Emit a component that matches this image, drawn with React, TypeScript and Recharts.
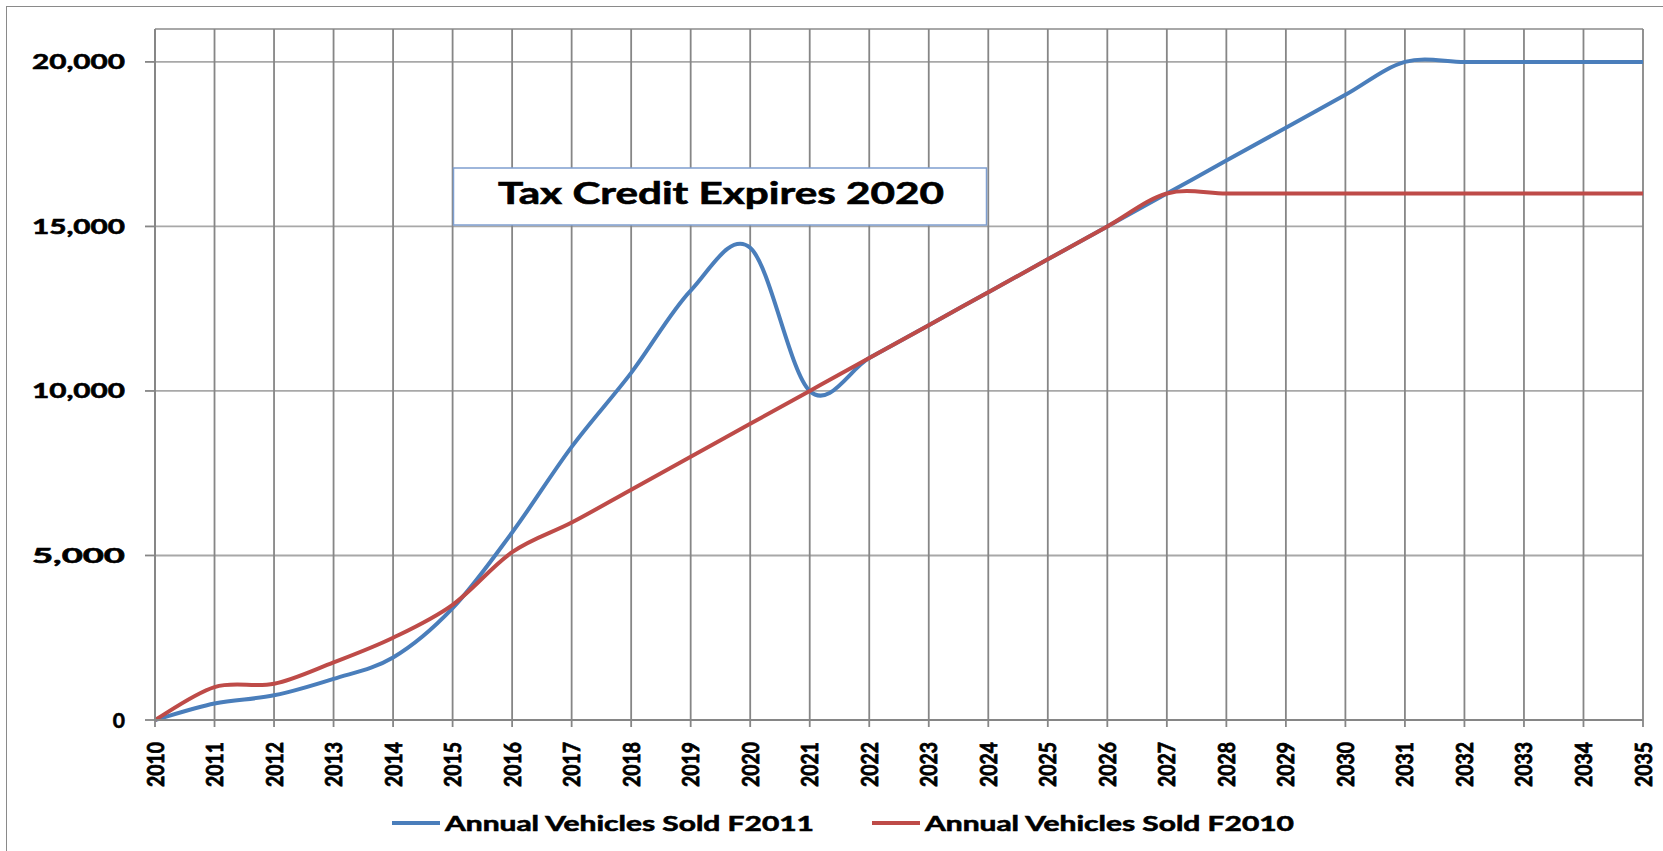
import React from "react";
import {
    CartesianGrid,
    Legend,
    Line,
    LineChart,
    XAxis,
    YAxis,
} from "recharts";

const years = [
    "2010", "2011", "2012", "2013", "2014", "2015", "2016", "2017", "2018",
    "2019", "2020", "2021", "2022", "2023", "2024", "2025", "2026", "2027",
    "2028", "2029", "2030", "2031", "2032", "2033", "2034", "2035",
];

const soldF2011 = [
    0, 500, 750, 1250, 1900, 3400, 5700, 8300, 10550, 13050, 14350, 10000,
    11000, 12000, 13000, 14000, 15000, 16000, 17000, 18000, 19000, 20000,
    20000, 20000, 20000, 20000,
];

const soldF2010 = [
    0, 1000, 1100, 1750, 2500, 3500, 5100, 6000, 7000, 8000, 9000, 10000,
    11000, 12000, 13000, 14000, 15000, 16000, 16000, 16000, 16000, 16000,
    16000, 16000, 16000, 16000,
];

const yTicks = [0, 5000, 10000, 15000, 20000];

const SERIES_F2011 = "Annual Vehicles Sold F2011";
const SERIES_F2010 = "Annual Vehicles Sold F2010";
const annotation = "Tax Credit Expires 2020";

const BLUE = "#4a7ebb";
const RED = "#be4b48";
const GRID_V = "#868686";
const GRID_H = "#a8a8a8";
const FONT = "Lato, 'Open Sans', sans-serif";

const rows = years.map((year, i) => ({
    year,
    [SERIES_F2011]: soldF2011[i],
    [SERIES_F2010]: soldF2010[i],
}));

// Excel-style smoothed line (Catmull-Rom through the points, bezier segments)
function excelSmooth(context: any) {
    let pts: number[][] = [];
    return {
        areaStart() {},
        areaEnd() {},
        lineStart() {
            pts = [];
        },
        point(x: number, y: number) {
            pts.push([+x, +y]);
        },
        lineEnd() {
            if (!pts.length) return;
            context.moveTo(pts[0][0], pts[0][1]);
            for (let i = 0; i < pts.length - 1; i++) {
                const p0 = pts[i - 1] || pts[i];
                const p1 = pts[i];
                const p2 = pts[i + 1];
                const p3 = pts[i + 2] || p2;
                context.bezierCurveTo(
                    p1[0] + (p2[0] - p0[0]) / 6,
                    p1[1] + (p2[1] - p0[1]) / 6,
                    p2[0] - (p3[0] - p1[0]) / 6,
                    p2[1] - (p3[1] - p1[1]) / 6,
                    p2[0],
                    p2[1],
                );
            }
        },
    };
}

const fmt = (v: number) => v.toLocaleString("en-US");

// shared look for the bold labels; a thin stroke fattens the glyphs a bit
const boldText = {
    fontFamily: FONT,
    fontWeight: 700,
    fill: "#000",
    stroke: "#000",
    strokeWidth: 0.6,
    lengthAdjust: "spacingAndGlyphs",
} as const;

function YTick({ x, y, payload }: any) {
    const label = fmt(payload.value);
    return (
        <text
            {...boldText}
            x={x}
            y={y + 7.5}
            textAnchor="end"
            fontSize={21}
            textLength={label.length > 1 ? 93 : undefined}
        >
            {label}
        </text>
    );
}

function XTick({ x, y, payload }: any) {
    return (
        <text
            {...boldText}
            strokeWidth={0.8}
            transform={`translate(${x + 8.5}, ${y + 15}) rotate(-90)`}
            textAnchor="end"
            fontSize={23}
            textLength={45}
        >
            {payload.value}
        </text>
    );
}

function LegendBox() {
    const items = [
        { name: SERIES_F2011, color: BLUE, x: 392 },
        { name: SERIES_F2010, color: RED, x: 872 },
    ];
    return (
        <svg width={1663} height={40}>
            {items.map((item) => (
                <g key={item.name}>
                    <line
                        x1={item.x}
                        x2={item.x + 48}
                        y1={23}
                        y2={23}
                        stroke={item.color}
                        strokeWidth={4}
                    />
                    <text
                        {...boldText}
                        x={item.x + 53}
                        y={30.5}
                        fontSize={21}
                        textLength={369}
                    >
                        {item.name}
                    </text>
                </g>
            ))}
        </svg>
    );
}

export default function App() {
    return (
        <div
            style={{
                position: "absolute",
                left: 0,
                top: 0,
                width: 1663,
                height: 851,
                overflow: "hidden",
                background: "#fff",
            }}
        >
            <div
                style={{
                    position: "absolute",
                    left: 6,
                    top: 6,
                    width: 2000,
                    height: 2000,
                    border: "1.5px solid #8a8a8a",
                }}
            />
            <div style={{ position: "absolute", left: 0, top: 0 }}>
                <LineChart
                    width={1663}
                    height={851}
                    data={rows}
                    margin={{ top: 29, right: 20, left: 0, bottom: 0 }}
                >
                    <CartesianGrid vertical={false} stroke={GRID_H} strokeWidth={1.8} />
                    <CartesianGrid horizontal={false} stroke={GRID_V} strokeWidth={1.8} />
                    <XAxis
                        dataKey="year"
                        height={131}
                        interval={0}
                        tickSize={7}
                        tickMargin={0}
                        stroke={GRID_V}
                        strokeWidth={1.8}
                        tick={<XTick />}
                    />
                    <YAxis
                        width={155}
                        domain={[0, 21000]}
                        ticks={yTicks}
                        interval={0}
                        tickSize={10}
                        tickMargin={20}
                        stroke={GRID_V}
                        strokeWidth={1.8}
                        tick={<YTick />}
                    />
                    <Legend
                        layout="vertical"
                        align="center"
                        verticalAlign="middle"
                        content={<LegendBox />}
                        wrapperStyle={{
                            position: "absolute",
                            top: 800,
                            left: 0,
                            width: 1663,
                            height: 40,
                        }}
                    />
                    <Line
                        dataKey={SERIES_F2011}
                        type={excelSmooth as any}
                        stroke={BLUE}
                        strokeWidth={4}
                        dot={false}
                        activeDot={false}
                        isAnimationActive={false}
                    />
                    <Line
                        dataKey={SERIES_F2010}
                        type={excelSmooth as any}
                        stroke={RED}
                        strokeWidth={4}
                        dot={false}
                        activeDot={false}
                        isAnimationActive={false}
                    />
                </LineChart>
            </div>
            <svg
                width={1663}
                height={851}
                style={{ position: "absolute", left: 0, top: 0, pointerEvents: "none" }}
            >
                <rect
                    x={453.5}
                    y={168}
                    width={533}
                    height={57}
                    fill="#fff"
                    stroke="#7f9fd0"
                    strokeWidth={1.5}
                />
                <text
                    {...boldText}
                    x={498}
                    y={204}
                    fontSize={30}
                    textLength={446}
                >
                    {annotation}
                </text>
            </svg>
        </div>
    );
}
